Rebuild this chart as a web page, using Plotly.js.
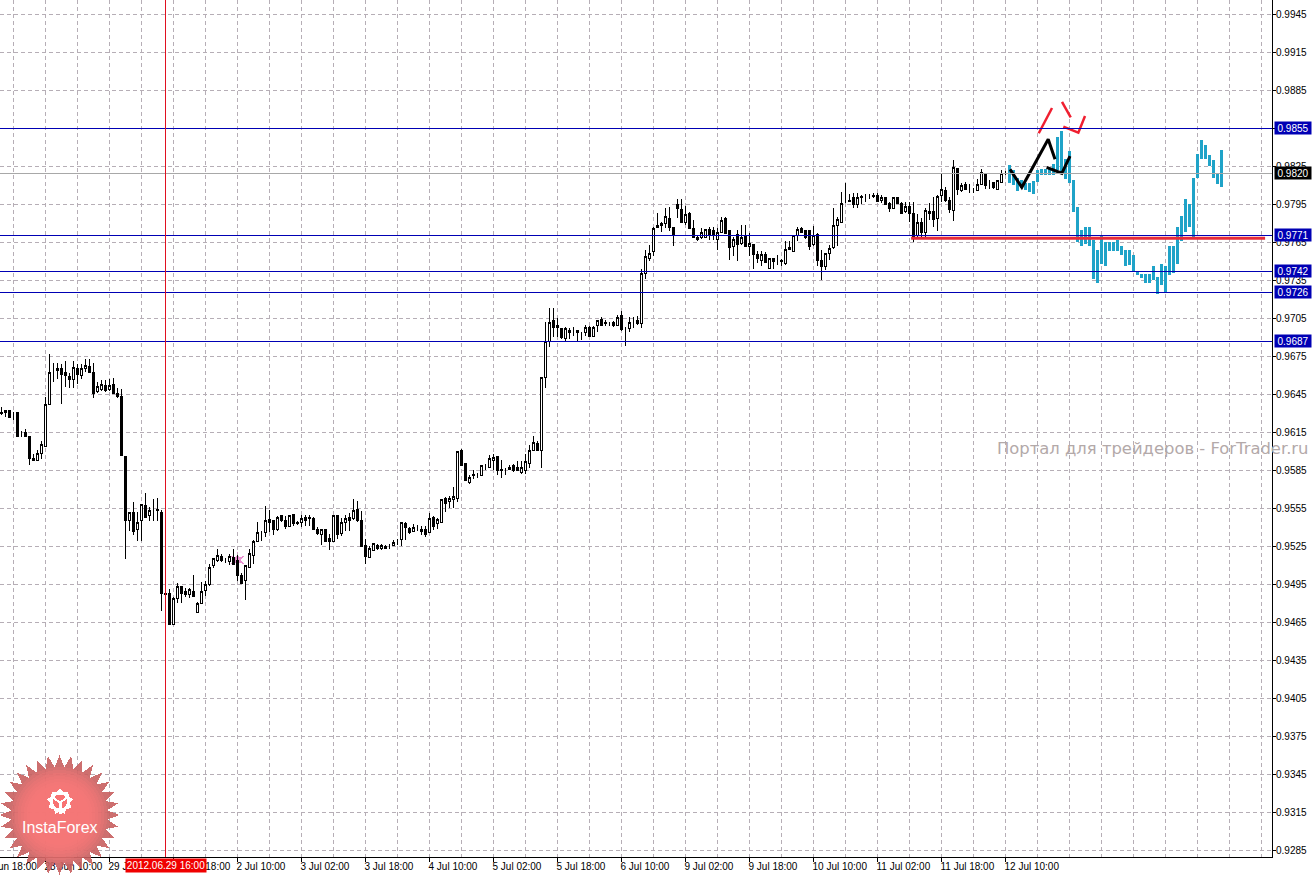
<!DOCTYPE html>
<html><head><meta charset="utf-8">
<script src="https://cdn.plot.ly/plotly-3.0.1.min.js"></script>
<style>html,body{margin:0;padding:0;background:#fff;overflow:hidden}#c{width:1314px;height:875px}
.shapelayer path{shape-rendering:crispEdges}
.boxlayer path,.boxes path{shape-rendering:crispEdges}
.barlayer path{shape-rendering:crispEdges}
</style>
</head><body><div id="c"></div>
<script>
const candleOpen=[
.9631,.9632,.9632,.9628,.9631,.9613,.9615,.9612,.9594,.9593,
.9598,.9604,.9637,.9664,.9665,.9665,.9662,.9659,.9657,.9665,
.9660,.9665,.9667,.9662,.9647,.9649,.9652,.9649,.9653,.9646,
.9643,.9596,.9545,.9552,.9538,.9545,.9557,.9549,.9553,.9554,
.9552,.9488,.9488,.9463,.9484,.9493,.9489,.9487,.9489,.9473,
.9480,.9490,.9495,.9510,.9514,.9517,.9515,.9513,.9516,.9514,
.9502,.9498,.9508,.9518,.9529,.9535,.9536,.9546,.9545,.9538,
.9549,.9545,.9541,.9550,.9544,.9544,.9548,.9548,.9547,.9538,
.9534,.9538,.9531,.9529,.9549,.9535,.9544,.9548,.9547,.9554,
.9545,.9526,.9516,.9522,.9526,.9523,.9525,.9525,.9526,.9529,
.9530,.9543,.9539,.9537,.9540,.9538,.9538,.9536,.9548,.9543,
.9544,.9563,.9560,.9562,.9563,.9601,.9590,.9575,.9581,.9581,
.9581,.9587,.9587,.9593,.9596,.9586,.9586,.9587,.9589,.9587,
.9583,.9585,.9590,.9601,.9606,.9601,.9658,.9687,.9703,.9699,
.9697,.9689,.9695,.9694,.9695,.9693,.9694,.9698,.9691,.9699,
.9704,.9701,.9701,.9702,.9699,.9707,.9697,.9697,.9702,.9703,
.9701,.9740,.9752,.9758,.9777,.9780,.9780,.9784,.9777,.9795,
.9791,.9781,.9788,.9776,.9769,.9769,.9769,.9775,.9774,.9767,
.9773,.9784,.9774,.9762,.9771,.9764,.9770,.9762,.9763,.9755,
.9751,.9755,.9744,.9752,.9751,.9751,.9748,.9761,.9758,.9770,
.9776,.9774,.9774,.9763,.9771,.9751,.9746,.9756,.9761,.9778,
.9781,.9797,.9798,.9800,.9795,.9800,.9801,.9801,.9802,.9802,
.9798,.9800,.9796,.9792,.9800,.9796,.9789,.9793,.9788,.9770,
.9781,.9773,.9789,.9789,.9784,.9802,.9806,.9798,.9790,.9823,
.9806,.9811,.9807,.9806,.9806,.9811,.9819,.9811,.9812,.9807,
.9812,.9819];
const candleClose=[
.9630,.9631,.9627,.9628,.9612,.9613,.9612,.9594,.9593,.9598,
.9605,.9637,.9662,.9664,.9664,.9661,.9660,.9657,.9666,.9661,
.9665,.9668,.9662,.9646,.9651,.9653,.9648,.9652,.9646,.9643,
.9597,.9545,.9552,.9537,.9544,.9558,.9548,.9553,.9553,.9553,
.9488,.9487,.9463,.9484,.9493,.9488,.9487,.9491,.9485,.9480,
.9489,.9495,.9508,.9515,.9518,.9514,.9515,.9517,.9511,.9502,
.9496,.9510,.9519,.9529,.9536,.9535,.9545,.9544,.9538,.9548,
.9545,.9541,.9549,.9543,.9543,.9547,.9545,.9547,.9538,.9535,
.9538,.9529,.9529,.9549,.9534,.9544,.9547,.9545,.9553,.9545,
.9525,.9517,.9523,.9527,.9523,.9526,.9523,.9525,.9528,.9529,
.9544,.9540,.9536,.9540,.9540,.9537,.9534,.9547,.9541,.9546,
.9562,.9559,.9563,.9564,.9600,.9589,.9577,.9579,.9582,.9581,
.9589,.9587,.9594,.9595,.9585,.9585,.9586,.9586,.9585,.9585,
.9587,.9592,.9601,.9607,.9601,.9658,.9687,.9702,.9698,.9698,
.9690,.9697,.9694,.9694,.9694,.9693,.9698,.9691,.9698,.9703,
.9699,.9702,.9701,.9699,.9706,.9696,.9697,.9702,.9702,.9701,
.9740,.9754,.9756,.9776,.9778,.9778,.9785,.9777,.9771,.9792,
.9781,.9787,.9776,.9769,.9767,.9773,.9775,.9771,.9770,.9773,
.9782,.9772,.9761,.9767,.9763,.9769,.9762,.9764,.9755,.9752,
.9755,.9749,.9752,.9750,.9751,.9750,.9759,.9759,.9770,.9775,
.9773,.9769,.9762,.9770,.9751,.9746,.9756,.9760,.9778,.9783,
.9796,.9797,.9797,.9795,.9800,.9801,.9801,.9801,.9801,.9797,
.9800,.9795,.9792,.9800,.9796,.9788,.9793,.9788,.9769,.9781,
.9773,.9790,.9788,.9783,.9801,.9807,.9798,.9791,.9824,.9807,
.9810,.9807,.9807,.9806,.9811,.9820,.9810,.9811,.9808,.9814,
.9819,.9819];
const candleHigh=[
.9635,.9632,.9632,.9631,.9631,.9616,.9618,.9612,.9598,.9601,
.9608,.9643,.9677,.9670,.9670,.9669,.9671,.9662,.9671,.9669,
.9669,.9673,.9673,.9670,.9655,.9656,.9656,.9657,.9658,.9650,
.9649,.9596,.9552,.9560,.9552,.9558,.9567,.9556,.9562,.9563,
.9554,.9498,.9491,.9485,.9496,.9493,.9492,.9492,.9502,.9481,
.9497,.9498,.9511,.9516,.9523,.9519,.9516,.9519,.9523,.9518,
.9504,.9510,.9523,.9530,.9544,.9537,.9557,.9554,.9546,.9549,
.9550,.9549,.9550,.9550,.9545,.9550,.9550,.9550,.9548,.9540,
.9538,.9538,.9535,.9549,.9550,.9547,.9550,.9551,.9562,.9561,
.9553,.9531,.9525,.9528,.9527,.9527,.9526,.9527,.9530,.9531,
.9544,.9544,.9540,.9543,.9542,.9541,.9541,.9551,.9549,.9547,
.9562,.9564,.9565,.9572,.9600,.9602,.9590,.9581,.9585,.9583,
.9589,.9590,.9597,.9598,.9596,.9593,.9587,.9589,.9590,.9592,
.9592,.9598,.9605,.9612,.9608,.9658,.9702,.9713,.9713,.9705,
.9697,.9698,.9697,.9698,.9695,.9694,.9700,.9699,.9699,.9704,
.9706,.9704,.9702,.9703,.9708,.9711,.9698,.9706,.9706,.9707,
.9744,.9759,.9763,.9777,.9788,.9781,.9792,.9793,.9777,.9799,
.9799,.9794,.9789,.9783,.9771,.9776,.9775,.9777,.9777,.9776,
.9785,.9785,.9775,.9769,.9775,.9779,.9779,.9772,.9764,.9758,
.9758,.9757,.9752,.9752,.9755,.9752,.9766,.9766,.9771,.9777,
.9777,.9775,.9774,.9778,.9772,.9759,.9756,.9763,.9792,.9785,
.9805,.9812,.9803,.9804,.9804,.9802,.9803,.9803,.9804,.9804,
.9802,.9801,.9797,.9800,.9801,.9797,.9797,.9797,.9797,.9787,
.9784,.9792,.9796,.9801,.9802,.9819,.9809,.9801,.9830,.9823,
.9812,.9813,.9811,.9808,.9815,.9823,.9820,.9814,.9813,.9814,
.9822,.9821];
const candleLow=[
.9629,.9627,.9627,.9625,.9611,.9611,.9611,.9589,.9593,.9592,
.9594,.9604,.9637,.9655,.9657,.9637,.9651,.9650,.9650,.9653,
.9657,.9663,.9662,.9642,.9646,.9648,.9647,.9648,.9646,.9642,
.9597,.9515,.9537,.9534,.9529,.9529,.9548,.9545,.9545,.9545,
.9474,.9480,.9463,.9463,.9480,.9480,.9485,.9484,.9485,.9472,
.9480,.9486,.9494,.9508,.9513,.9513,.9512,.9510,.9511,.9498,
.9495,.9483,.9508,.9511,.9529,.9529,.9532,.9536,.9534,.9537,
.9544,.9539,.9541,.9541,.9542,.9540,.9541,.9541,.9538,.9534,
.9526,.9529,.9522,.9529,.9531,.9533,.9537,.9537,.9546,.9544,
.9525,.9511,.9516,.9522,.9522,.9522,.9523,.9523,.9525,.9526,
.9525,.9530,.9535,.9537,.9537,.9534,.9532,.9536,.9538,.9539,
.9544,.9552,.9555,.9555,.9560,.9589,.9577,.9574,.9578,.9579,
.9581,.9585,.9587,.9585,.9581,.9579,.9581,.9585,.9584,.9585,
.9582,.9582,.9587,.9601,.9601,.9587,.9650,.9682,.9690,.9690,
.9689,.9687,.9689,.9691,.9687,.9688,.9691,.9691,.9690,.9694,
.9699,.9699,.9699,.9698,.9699,.9695,.9683,.9694,.9697,.9700,
.9697,.9736,.9750,.9754,.9776,.9773,.9776,.9774,.9762,.9784,
.9781,.9779,.9776,.9769,.9766,.9768,.9769,.9767,.9767,.9759,
.9773,.9772,.9751,.9754,.9750,.9763,.9761,.9754,.9744,.9749,
.9746,.9749,.9744,.9744,.9747,.9746,.9747,.9759,.9758,.9766,
.9773,.9768,.9759,.9762,.9746,.9735,.9743,.9751,.9760,.9762,
.9781,.9796,.9797,.9792,.9792,.9795,.9797,.9799,.9800,.9797,
.9796,.9795,.9789,.9792,.9796,.9787,.9788,.9781,.9765,.9768,
.9769,.9769,.9783,.9777,.9774,.9797,.9797,.9788,.9782,.9802,
.9805,.9806,.9804,.9804,.9806,.9810,.9807,.9807,.9807,.9806,
.9812,.9818];
const forecastHigh=[
.9826,.9822,.98155,.9814,.9812,.9812,.98134,.9822,.9823,.9823,
.9823,.9827,.9848,.9853,.9831,.9837,.9814,.9793,.9775,.9777,
.9777,.9767,.9759,.9770,.9765,.9765,.9765,.9767,.9762,.9759,
.9759,.9755,.9742,.9740,.9740,.9740,.9746,.9738,.9748,.9746,
.9762,.9762,.9777,.9786,.9799,.9795,.9816,.9835,.9846,.9842,
.9834,.9830,.9819,.9838];
const forecastLow=[
.9812,.9810,.98055,.9808,.9806,.9805,.9803,.9813,.9818,.9818,
.9818,.9818,.9822,.9819,.9815,.9812,.9789,.97655,.9762,.9764,
.9762,.9736,.9733,.9748,.9746,.9758,.9758,.9758,.9755,.9746,
.9747,.9742,.9739,.97365,.9733,.9733,.9735,.9724,.9731,.97255,
.9739,.9741,.9748,.9766,.9773,.9777,.9769,.9816,.9831,.9831,
.9825,.9816,.9811,.9809];
const forecastStart=252;

const zigzagX=[252.13,255.08,261.68,263.38,null,261.28,265.08,267.13];
const zigzagY=[.98226,.98084,.98463,.98305,null,.98242,.98195,.98331];
const redMarkX=[259.31,262.63,null,265.13,267.31,null,265.46,269.21,270.88];
const redMarkY=[.98511,.98710,null,.98758,.98637,null,.98563,.98515,.98647];
const supportX=[227.4,315.9];
const supportY=[.97682,.97682];

const levelPrices=[.9855,.97702,.97418,.97255,.96863];
const levelLabels=['0.9855','0.9771','0.9742','0.9726','0.9687'];
const levelLabelAt=[.9855,.9771,.9742,.9726,.9687];
const bidPrice=.98197, bidLabel='0.9820', bidLabelAt=.9820;
const cursorBar=41, cursorLabel='2012.06.29 16:00';

const priceTicks=[.9945,.9915,.9885,.9855,.9825,.9795,.9765,.9735,.9705,.9675,.9645,.9615,.9585,.9555,.9525,.9495,.9465,.9435,.9405,.9375,.9345,.9315,.9285];
const timeTickBars=[11,27,43,59,75,91,107,123,139,155,171,187,203,219,235,251];
const timeTickLabels=['28 Jun 10:00','29 Jun 02:00','29 Jun 18:00','2 Jul 10:00','3 Jul 02:00','3 Jul 18:00','4 Jul 10:00','5 Jul 02:00','5 Jul 18:00','6 Jul 10:00','9 Jul 02:00','9 Jul 18:00','10 Jul 10:00','11 Jul 02:00','11 Jul 18:00','12 Jul 10:00'];
const firstTimeLabel='27 Jun 18:00';
const watermark='Портал для трейдеров - ForTrader.ru';
const badgeText='InstaForex';

const W=1272,H=857;
const px=x=>x/W, py=y=>1-y/H;
const GRID='#b6aeb6', FONT='"Liberation Sans", Arial, sans-serif', BLUE='#0000b4';
const barIdx=candleOpen.map((_,i)=>i);
const fcIdx=forecastHigh.map((_,i)=>forecastStart+i);

const traces=[
 {type:'candlestick',x:barIdx,open:candleOpen,high:candleHigh,low:candleLow,close:candleClose,
  increasing:{line:{color:'#000',width:1},fillcolor:'#fff'},
  decreasing:{line:{color:'#000',width:1},fillcolor:'#000'},
  whiskerwidth:0,hoverinfo:'skip',showlegend:false},
 {type:'bar',x:fcIdx,base:forecastLow,y:forecastHigh.map((h,i)=>h-forecastLow[i]),width:0.75,
  marker:{color:'#1fa3c8',line:{width:0}},hoverinfo:'skip',showlegend:false},
 {type:'scatter',mode:'lines',x:supportX,y:supportY,line:{color:'#e62a38',width:3},hoverinfo:'skip',showlegend:false},
 {type:'scatter',mode:'lines',x:zigzagX,y:zigzagY,line:{color:'#000',width:3},hoverinfo:'skip',showlegend:false,connectgaps:false},
 {type:'scatter',mode:'lines',x:redMarkX,y:redMarkY,line:{color:'#f01f30',width:2.5},hoverinfo:'skip',showlegend:false,connectgaps:false}
];

const shapes=[];
levelPrices.forEach(v=>shapes.push({type:'line',xref:'paper',x0:0,x1:1,yref:'y',y0:v,y1:v,line:{color:BLUE,width:1},layer:'above'}));
shapes.push({type:'line',xref:'paper',x0:0,x1:1,yref:'y',y0:bidPrice,y1:bidPrice,line:{color:'#a8a8a8',width:1},layer:'above'});
shapes.push({type:'line',xref:'x',x0:cursorBar,x1:cursorBar,yref:'paper',y0:0,y1:1,line:{color:'#e01020',width:1},layer:'above'});

// badge
const CX=59.5,CY=815;
function burst(n,ro,ri,cx,cy){let s='';for(let k=0;k<n*2;k++){const r=k%2?ri:ro,a=Math.PI*k/n-Math.PI/2;
 s+=(k?'L':'M')+px(cx+r*Math.cos(a)).toFixed(5)+','+py(cy+r*Math.sin(a)).toFixed(5);}return s+'Z';}
function disc(cx,cy,r){let s='';for(let k=0;k<48;k++){const a=2*Math.PI*k/48;
 s+=(k?'L':'M')+px(cx+r*Math.cos(a)).toFixed(5)+','+py(cy+r*Math.sin(a)).toFixed(5);}return s+'Z';}
const pth=(d,fill,op,layer)=>({type:'path',xref:'paper',yref:'paper',path:d,fillcolor:fill,opacity:op,line:{width:0},layer:layer||'above'});
shapes.push(pth(burst(32,60,48,CX,CY),'#c85f5f',0.9));
[48,45,42,39,36,33,30].forEach(r=>shapes.push(pth(disc(CX,CY,r),'#ff7a7a',0.22)));
const GX=60,GY=801.5;
shapes.push(pth(burst(9,13,10,GX,GY),'#ffffff',1));
shapes.push(pth(disc(GX,GY,7),'#f87272',1));
const seg=(a,b,c,d)=>'M'+px(a)+','+py(b)+'L'+px(c)+','+py(d);
shapes.push({type:'path',xref:'paper',yref:'paper',path:seg(54,798,60,803)+'L'+px(66)+','+py(798),line:{color:'#fff',width:2},layer:'above'});
shapes.push({type:'path',xref:'paper',yref:'paper',path:seg(60,801,60,814),line:{color:'#fff',width:3},layer:'above'});
// small pink star behind a candle
shapes.push(pth(burst(6,8,3,237.5,560),'#e88fd0',1,'below'));

const ann=[];
levelLabels.forEach((t,i)=>ann.push({xref:'paper',yref:'y',x:1274/W,y:levelLabelAt[i],xanchor:'left',yanchor:'middle',showarrow:false,
  text:t,width:36,height:12,borderpad:0,bgcolor:BLUE,font:{family:FONT,size:10,color:'#fff'},align:'center'}));
ann.push({xref:'paper',yref:'y',x:1274/W,y:bidLabelAt,xanchor:'left',yanchor:'middle',showarrow:false,
  text:bidLabel,width:36,height:12,borderpad:0,bgcolor:'#000',font:{family:FONT,size:10,color:'#fff'},align:'center'});
ann.push({xref:'paper',yref:'paper',x:125/W,y:py(865),xanchor:'left',yanchor:'middle',showarrow:false,
  text:cursorLabel,width:80,height:13,borderpad:0,bgcolor:'#f00000',font:{family:FONT,size:10,color:'#fff'},align:'center'});
ann.push({xref:'paper',yref:'paper',x:-21/W,y:py(866),xanchor:'left',yanchor:'middle',showarrow:false,
  text:firstTimeLabel,font:{family:FONT,size:10,color:'#000'},borderpad:0,borderwidth:0});
ann.push({xref:'paper',yref:'paper',x:1311/W,y:py(448),xanchor:'right',yanchor:'middle',showarrow:false,
  text:watermark,font:{family:'"DejaVu Sans",sans-serif',size:16.4,color:'#b3a9a9'}});
ann.push({xref:'paper',yref:'paper',x:60/W,y:py(827),xanchor:'center',yanchor:'middle',showarrow:false,
  text:badgeText,font:{family:FONT,size:16,color:'#fff'}});

const layout={
 width:1314,height:875,margin:{l:0,r:42,t:0,b:18,pad:0},
 paper_bgcolor:'#fff',plot_bgcolor:'rgba(0,0,0,0)',showlegend:false,boxgap:0.5,bargap:0,barmode:'overlay',
 xaxis:{type:'linear',range:[-0.375,317.625],rangeslider:{visible:false},fixedrange:true,
  tickmode:'array',tickvals:timeTickBars,ticktext:timeTickLabels,ticks:'outside',ticklen:4,tickwidth:1,tickcolor:'#000',
  ticklabelposition:'outside right',ticklabelshift:-2,tickfont:{family:FONT,size:10,color:'#000'},tickangle:0,
  showgrid:true,gridcolor:GRID,griddash:'4px,3px',gridwidth:1,zeroline:false,
  minor:{tickmode:'linear',tick0:3,dtick:8,showgrid:true,gridcolor:GRID,griddash:'4px,3px',gridwidth:1,ticks:''},
  showline:true,linecolor:'#000',linewidth:1},
 yaxis:{type:'linear',side:'right',range:[.927971,.995629],fixedrange:true,
  tickmode:'array',tickvals:priceTicks,ticktext:priceTicks.map(v=>v.toFixed(4)),ticks:'outside',ticklen:3,tickwidth:1,tickcolor:'#000',
  ticklabelstandoff:-2,tickfont:{family:FONT,size:10,color:'#000'},
  showgrid:true,gridcolor:GRID,griddash:'4px,3px',gridwidth:1,zeroline:false,
  showline:true,linecolor:'#000',linewidth:1},
 shapes:shapes,annotations:ann
};
Plotly.newPlot('c',traces,layout,{displayModeBar:false,staticPlot:true});
</script></body></html>
